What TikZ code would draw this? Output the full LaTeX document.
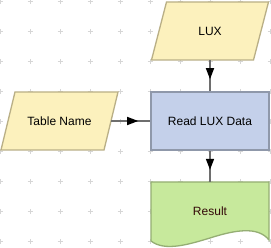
\documentclass[tikz,border=0pt]{standalone}
\usepackage{fontspec}
\setmainfont{Liberation Sans}
\usetikzlibrary{arrows.meta,decorations.markings}
\definecolor{yfill}{HTML}{FCF1BD}
\definecolor{ydraw}{HTML}{B9AF86}
\definecolor{bfill}{HTML}{C4D0EA}
\definecolor{bdraw}{HTML}{8F98AA}
\definecolor{gfill}{HTML}{C7E99C}
\definecolor{gdraw}{HTML}{95AE74}
\definecolor{linegray}{HTML}{6E6E6E}
\definecolor{gridgray}{HTML}{D6D6D6}
\definecolor{restext}{HTML}{330808}
\begin{document}
\begin{tikzpicture}[x=1pt,y=-1pt,
  txt/.style={inner sep=0pt, minimum height=58pt, font=\fontsize{12}{14}\selectfont},
  para/.style={fill=yfill, draw=ydraw, line width=1.3pt, line join=miter},
  procbox/.style={txt, rectangle, minimum width=118pt, fill=bfill, draw=bdraw, line width=1.6pt},
  docshape/.style={fill=gfill, draw=gdraw, line width=1.3pt},
  gridc/.style={draw=gridgray, line width=0.7pt},
  conn/.style={draw=linegray, line width=1.5pt, postaction={decorate},
    decoration={markings, mark=at position -12pt with {\arrow{Triangle[length=11pt,width=8pt,color=black,fill=black]}}}}
]
\useasboundingbox (0,0) rectangle (271,248);
\fill[white] (0,0) rectangle (271,248);
% grid
\foreach \i in {0,...,9}{
  \foreach \j in {0,...,8}{
    \draw[gridc] (30*\i-2.5, 30*\j+1.7) -- ++(5,0) (30*\i, 30*\j-0.8) -- ++(0,5);
  }
}
% shapes
\draw[para] (166.5,2) -- (268.5,2) -- (253.5,60) -- (151.5,60) -- cycle;
\draw[para] (15,92) -- (118,92) -- (104,150) -- (1,150) -- cycle;
\draw[docshape] (151,182) -- (269,182) -- (269,240)
  .. controls (258,226) and (235,230) .. (210,238)
  .. controls (190,244) and (165,252) .. (151,241) -- cycle;
% nodes
\node[txt, minimum width=103pt] (lux) at (210,31) {LUX};
\node[txt, minimum width=103pt] (tn) at (59.5,121) {Table Name};
\node[procbox] (read) at (210,121) {Read LUX Data};
\node[txt, minimum width=118pt, text=restext] (res) at (210,211) {Result};
% connectors
\draw[conn] (lux.south) -- (read.north);
\draw[conn] (tn.east) -- (read.west);
\draw[conn] (read.south) -- (res.north);
\end{tikzpicture}
\end{document}
